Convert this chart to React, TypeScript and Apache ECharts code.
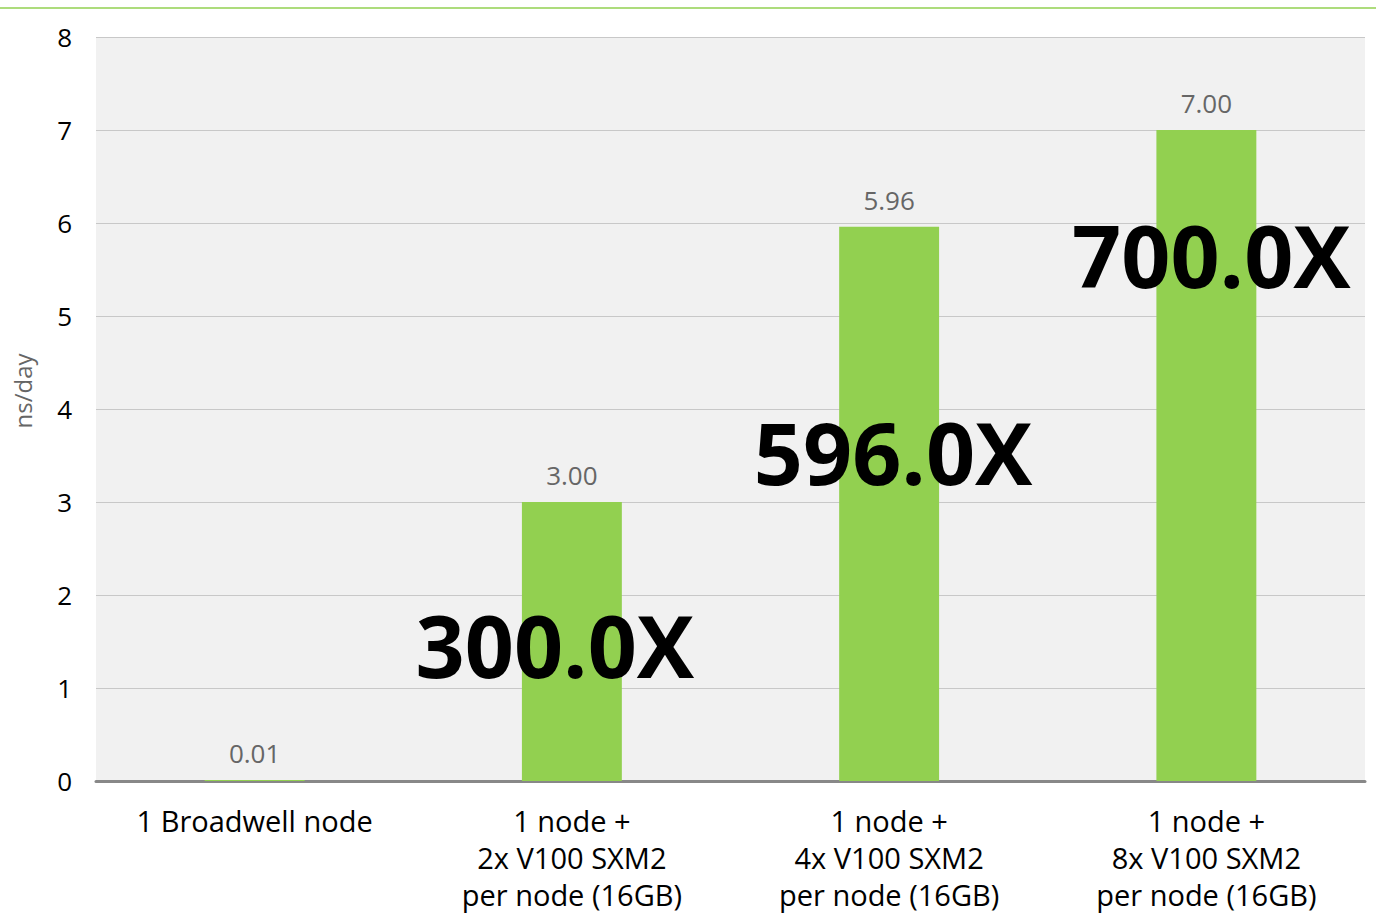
import React, { useEffect, useRef } from "react";
import * as echarts from "echarts";

const categories = [
  "1 Broadwell node",
  "1 node +\n2x V100 SXM2\nper node (16GB)",
  "1 node +\n4x V100 SXM2\nper node (16GB)",
  "1 node +\n8x V100 SXM2\nper node (16GB)",
];
const nsPerDay = [0.01, 3.0, 5.96, 7.0];
const speedupLabels = ["", "300.0X", "596.0X", "700.0X"];
const speedupLabelY = [null, 1.47, 3.54, 5.66];
const speedupLabelDx = [0, -17, 4, 5];
const yTicks = { min: 0, max: 8, interval: 1 };
const yAxisTitle = "ns/day";

const FONT = "'Open Sans', 'DejaVu Sans', sans-serif";

export default function App() {
  const ref = useRef<HTMLDivElement>(null);
  useEffect(() => {
    if (!ref.current) return;
    const chart = echarts.init(ref.current, undefined, { renderer: "svg" });
    chart.setOption({
      animation: false,
      textStyle: { fontFamily: FONT },
      grid: {
        left: 96,
        right: 14,
        top: 37,
        bottom: 132,
        show: true,
        backgroundColor: "#f1f1f1",
        borderWidth: 0,
        containLabel: false,
        outerBoundsMode: "none",
      },
      graphic: [
        {
          type: "line",
          shape: { x1: 0, y1: 8, x2: 1376, y2: 8 },
          style: { stroke: "#92d050", lineWidth: 1.5 },
        },
        {
          type: "text",
          x: 22,
          y: 391,
          rotation: Math.PI / 2,
          style: {
            text: yAxisTitle,
            fill: "#666",
            fontSize: 24,
            fontFamily: FONT,
            align: "center",
            verticalAlign: "middle",
          },
        },
      ],
      xAxis: {
        type: "category",
        data: categories,
        axisTick: { show: false },
        axisLine: { show: true, lineStyle: { color: "#888888", width: 3 } },
        axisLabel: {
          color: "#000",
          fontSize: 29,
          lineHeight: 37,
          margin: 21,
          interval: 0,
          fontFamily: FONT,
        },
      },
      yAxis: {
        type: "value",
        min: yTicks.min,
        max: yTicks.max,
        interval: yTicks.interval,
        axisLine: { show: false },
        axisTick: { show: false },
        axisLabel: { color: "#000", fontSize: 26, margin: 24, fontFamily: FONT },
        splitLine: { show: true, lineStyle: { color: "#c8c8c8", width: 1 } },
      },
      series: [
        {
          type: "bar",
          data: nsPerDay,
          barWidth: "31.5%",
          itemStyle: { color: "#92d050" },
          label: {
            show: true,
            position: "top",
            distance: 14,
            color: "#666",
            fontSize: 26,
            fontFamily: FONT,
            formatter: (p: any) => p.value.toFixed(2),
          },
        },
        {
          type: "scatter",
          symbolSize: 0,
          itemStyle: { opacity: 1 },
          data: speedupLabelY.map((y, i) =>
            y == null
              ? null
              : {
                  value: [i, y],
                  label: { offset: [speedupLabelDx[i], 0] },
                }
          ),
          label: {
            show: true,
            position: "inside",
            color: "#000",
            opacity: 1,
            fontSize: 86,
            fontWeight: "bold",
            fontFamily: FONT,
            formatter: (p: any) => speedupLabels[p.dataIndex],
          },
          z: 5,
        },
      ],
    });
    return () => chart.dispose();
  }, []);
  return (
    <div
      ref={ref}
      style={{ position: "fixed", left: 0, top: 0, width: 1379, height: 913, background: "#fff" }}
    />
  );
}
